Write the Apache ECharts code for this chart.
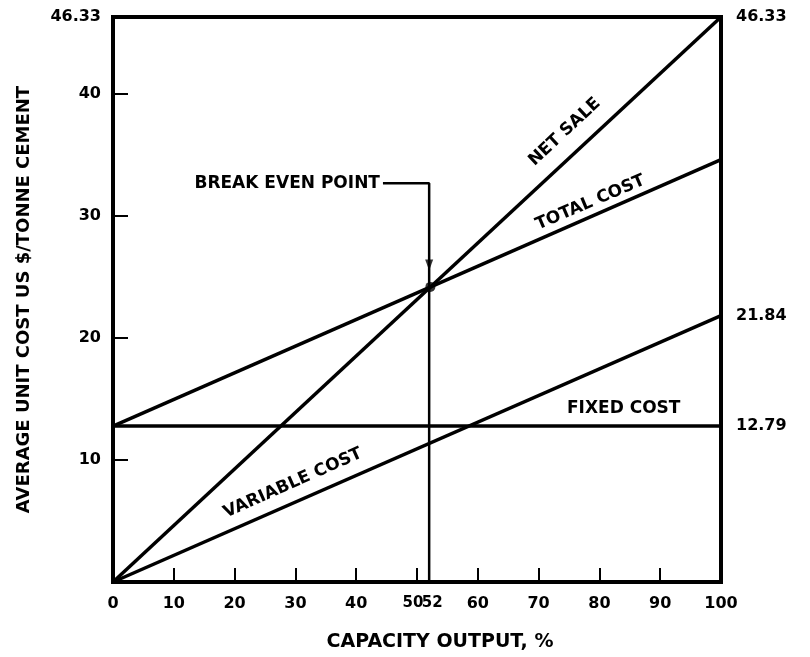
<!DOCTYPE html>
<html>
<head>
<meta charset="utf-8">
<script src="https://cdn.jsdelivr.net/npm/echarts@6/dist/echarts.min.js"></script>
<style>
  html, body { margin: 0; padding: 0; background: #fff; }
  #main { width: 810px; height: 657px; }
</style>
</head>
<body>
<div id="main"></div>
<script>
// data
var capacity = [0, 100];
var netSale = [0, 46.33];
var totalCost = [12.79, 34.63];
var fixedCost = [12.79, 12.79];
var variableCost = [0, 21.84];

var breakEven = [52.2, 24.2];
var leaderX = [44.4, 52, 52];
var leaderY = [32.7, 32.7, 0];

var xTickLabels = [0, 10, 20, 30, 40, 50, 52, 60, 70, 80, 90, 100];
var xTicks = [10, 20, 30, 40, 50, 60, 70, 80, 90];
var yTickLabels = [10, 20, 30, 40, 46.33];
var yTicks = [10, 20, 30, 40];
var rightLabels = [12.79, 21.84, 46.33];

var font = 'DejaVu Sans';

function pairs(xs, ys) {
    return xs.map(function (x, i) { return [x, ys[i]]; });
}

function textMark(coord, text, rotate, pos) {
    return {
        coord: coord,
        label: {
            show: true,
            formatter: text,
            rotate: rotate,
            color: '#000',
            fontFamily: font,
            fontWeight: 'bold',
            fontSize: 17,
            position: pos || 'inside',
            distance: 3
        }
    };
}

var myChart = echarts.init(document.getElementById('main'));

function lineSeries(name, ys, tag) {
    return {
        name: name,
        type: 'line',
        data: pairs(capacity, ys),
        symbol: 'none',
        lineStyle: { color: '#000', width: 3.5 },
        markPoint: {
            symbol: 'circle',
            symbolSize: 0,
            silent: true,
            data: [textMark(tag.at, name, tag.rotate)]
        }
    };
}

var option = {
    animation: false,
    grid: {
        left: 113, right: 89, top: 17, bottom: 75,
        show: true, borderColor: '#000', borderWidth: 4
    },
    xAxis: {
        type: 'value',
        min: 0, max: 100,
        name: 'CAPACITY OUTPUT, %',
        nameLocation: 'middle',
        nameGap: 51,
        nameTextStyle: { color: '#000', fontFamily: font, fontWeight: 'bold', fontSize: 19, padding: [0, 0, 0, 46] },
        axisLine: { show: false },
        splitLine: { show: false },
        axisTick: { show: true, inside: true, length: 14, customValues: xTicks, lineStyle: { color: '#000', width: 2 } },
        axisLabel: {
            customValues: xTickLabels,
            margin: 14,
            color: '#000', fontFamily: font, fontWeight: 'bold', fontSize: 16,
            formatter: function (v) {
                if (v === 50) return '{l|50}';
                if (v === 52) return '{r|52}';
                return String(v);
            },
            rich: {
                l: { fontFamily: font, fontWeight: 'bold', fontSize: 15, color: '#000', padding: [0, 8, 0, 0] },
                r: { fontFamily: font, fontWeight: 'bold', fontSize: 15, color: '#000', padding: [0, 0, 0, 6] }
            }
        }
    },
    yAxis: [{
        type: 'value',
        min: 0, max: 46.33,
        name: 'AVERAGE UNIT COST US $/TONNE CEMENT',
        nameLocation: 'middle',
        nameGap: 80,
        nameTextStyle: { color: '#000', fontFamily: font, fontWeight: 'bold', fontSize: 18 },
        axisLine: { show: false },
        splitLine: { show: false },
        axisTick: { show: true, inside: true, length: 15, customValues: yTicks, lineStyle: { color: '#000', width: 2 } },
        axisLabel: {
            customValues: yTickLabels,
            margin: 12,
            color: '#000', fontFamily: font, fontWeight: 'bold', fontSize: 16
        }
    }, {
        type: 'value',
        position: 'right',
        min: 0, max: 46.33,
        axisLine: { show: false },
        splitLine: { show: false },
        axisTick: { show: false },
        axisLabel: {
            customValues: rightLabels,
            margin: 15,
            color: '#000', fontFamily: font, fontWeight: 'bold', fontSize: 16
        }
    }],
    series: [
        lineSeries('NET SALE', netSale, { at: [74.3, 36.9], rotate: 43 }),
        lineSeries('TOTAL COST', totalCost, { at: [78.5, 31.1], rotate: 23 }),
        lineSeries('FIXED COST', fixedCost, { at: [84, 14.2], rotate: 0 }),
        lineSeries('VARIABLE COST', variableCost, { at: [29.6, 8.1], rotate: 24 }),
        {
            name: 'BREAK EVEN POINT',
            type: 'line',
            data: pairs(leaderX, leaderY),
            symbol: 'none',
            lineStyle: { color: '#000', width: 2.5 },
            markPoint: {
                symbol: 'circle',
                symbolSize: 0,
                silent: true,
                data: [textMark([leaderX[0], leaderY[0]], 'BREAK EVEN POINT', 0, 'left')]
            }
        },
        {
            type: 'scatter',
            data: [breakEven],
            symbolSize: 10,
            itemStyle: { color: '#000' }
        },
        {
            // arrow head of the leader
            type: 'scatter',
            data: [[52, 26.0]],
            symbol: 'triangle',
            symbolRotate: 180,
            symbolSize: [8, 11],
            itemStyle: { color: '#000' }
        }
    ]
};

myChart.setOption(option);

window.addEventListener('resize', function () {
    myChart.resize();
});
</script>
</body>
</html>
